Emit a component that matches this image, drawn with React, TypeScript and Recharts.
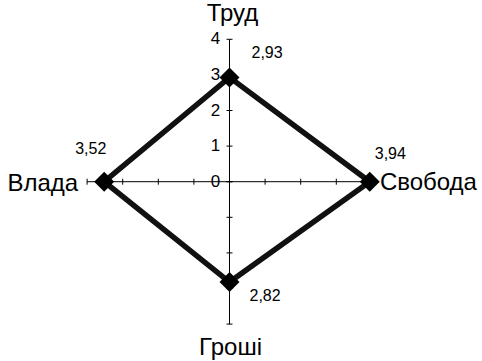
import React from 'react';
import { RadarChart, Radar, PolarAngleAxis, PolarRadiusAxis } from 'recharts';

const categories = ['Труд', 'Свобода', 'Гроші', 'Влада'];
const values = [2.93, 3.94, 2.82, 3.52];
const radiusTicks = [0, 1, 2, 3, 4];

const data = categories.map((name, i) => ({ name, value: values[i] }));

const FONT = '"Liberation Sans", Arial, sans-serif';
const W = 482;
const H = 361;
const CX = 229.5;
const CY = 181.7;
const R = 142.4;

// label offsets (left edge x, center y) relative to each point
const labelOffsets = [
  [22, -25],
  [5, -28],
  [20, 13],
  [-29, -33],
];

const angleLabelPlacement: Record<string, { dx: number; dy: number; anchor: string }> = {
  'Труд': { dx: 3, dy: -10.3, anchor: 'middle' },
  'Свобода': { dx: 0, dy: 8.3, anchor: 'start' },
  'Гроші': { dx: 1, dy: 23, anchor: 'middle' },
  'Влада': { dx: -1, dy: 9.3, anchor: 'end' },
};

const AngleTick = (props: any) => {
  const { x, y, payload } = props;
  const p = angleLabelPlacement[payload.value] || { dx: 0, dy: 0, anchor: 'middle' };
  return (
    <text x={x + p.dx} y={y + p.dy} textAnchor={p.anchor as any} fontSize={24} fontFamily={FONT} fill="#000">
      {payload.value}
    </text>
  );
};

const makeRadiusTick = (vertical: boolean, showLabel: boolean) => (props: any) => {
  const { x, y, payload } = props;
  return (
    <g>
      {vertical ? (
        <line x1={x - 3} y1={y} x2={x + 3} y2={y} stroke="#000" strokeWidth={1} />
      ) : (
        <line x1={x} y1={y - 3} x2={x} y2={y + 3} stroke="#000" strokeWidth={1} />
      )}
      {showLabel && (
        <text x={x - 14} y={y - 0.5} textAnchor="middle" dominantBaseline="central" fontSize={17} fontFamily={FONT} fill="#000">
          {payload.value}
        </text>
      )}
    </g>
  );
};

const Dot = (props: any) => {
  const { cx, cy, index, payload } = props;
  const v = payload && typeof payload.value === 'number' ? payload.value : values[index];
  const off = labelOffsets[index] || [0, 0];
  const s = 10;
  return (
    <g>
      <polygon points={`${cx},${cy - s} ${cx + s},${cy} ${cx},${cy + s} ${cx - s},${cy}`} fill="#000" stroke="none" />
      <text x={cx + off[0]} y={cy + off[1]} textAnchor="start" dominantBaseline="central" fontSize={16} fontFamily={FONT} fill="#000">
        {v.toFixed(2).replace('.', ',')}
      </text>
    </g>
  );
};

const overlayStyle: React.CSSProperties = { position: 'absolute', left: 0, top: 0 };

const AxisOverlay = ({ angle, vertical }: { angle: number; vertical: boolean }) => (
  <div style={overlayStyle}>
    <RadarChart width={W} height={H} data={data} cx={CX} cy={CY} outerRadius={R} startAngle={90} endAngle={-270}
      margin={{ top: 0, right: 0, bottom: 0, left: 0 }}>
      <PolarAngleAxis dataKey="name" tick={false} axisLine={false} tickLine={false} />
      <PolarRadiusAxis angle={angle} domain={[0, 4]} ticks={radiusTicks as any} tickCount={5}
        axisLine={{ stroke: '#000', strokeWidth: 1 }} tick={makeRadiusTick(vertical, false)} />
      <Radar dataKey="value" stroke="none" fill="none" fillOpacity={0} dot={false} isAnimationActive={false} />
    </RadarChart>
  </div>
);

export default function App() {
  return (
    <div style={{ position: 'absolute', left: 0, top: 0, width: W, height: H, background: '#fff' }}>
      <AxisOverlay angle={0} vertical={false} />
      <AxisOverlay angle={-90} vertical={true} />
      <AxisOverlay angle={180} vertical={false} />
      <div style={overlayStyle}>
        <RadarChart
          width={W}
          height={H}
          data={data}
          cx={CX}
          cy={CY}
          outerRadius={R}
          startAngle={90}
          endAngle={-270}
          margin={{ top: 0, right: 0, bottom: 0, left: 0 }}
        >
          <PolarAngleAxis dataKey="name" tick={AngleTick} tickSize={8} axisLine={false} tickLine={false} />
          <PolarRadiusAxis angle={90} domain={[0, 4]} ticks={radiusTicks as any} tickCount={5}
            axisLine={{ stroke: '#000', strokeWidth: 1 }} tick={makeRadiusTick(true, true)} />
          <Radar
            dataKey="value"
            stroke="#111"
            strokeWidth={5.5}
            fill="none"
            fillOpacity={0}
            dot={Dot}
            isAnimationActive={false}
          />
        </RadarChart>
      </div>
    </div>
  );
}
